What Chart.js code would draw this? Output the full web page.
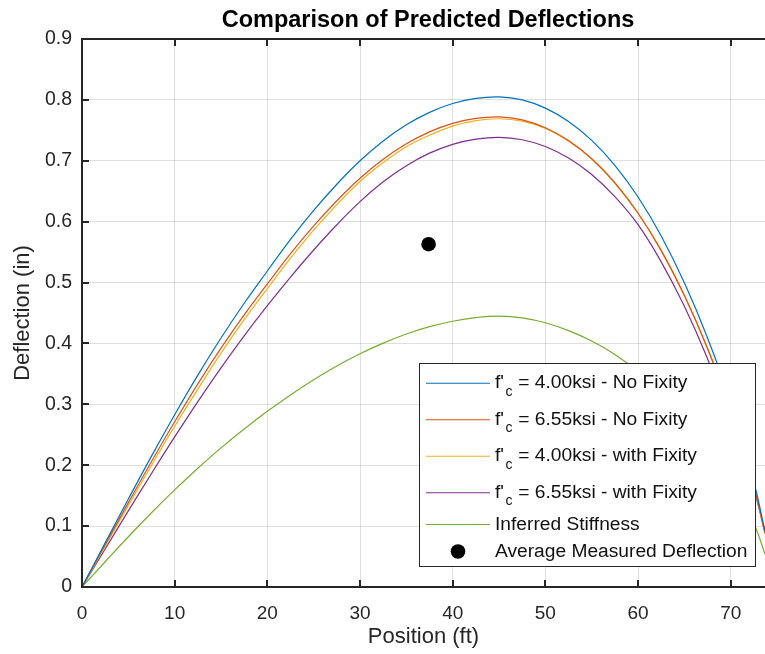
<!DOCTYPE html>
<html>
<head>
<meta charset="utf-8">
<title>Comparison of Predicted Deflections</title>
<script src="https://cdn.jsdelivr.net/npm/chart.js@4.4.1/dist/chart.umd.min.js"></script>
<style>
  html, body { margin: 0; padding: 0; background: #ffffff; }
  #wrap { width: 765px; height: 654px; position: relative; }
</style>
</head>
<body>
<div id="wrap"><canvas id="deflChart" width="765" height="654"></canvas></div>
<script>
// position along the span (ft)
const positions = [0, 2.5, 5, 7.5, 10, 12.5, 15, 17.5, 20, 22.5, 25, 27.5, 30, 32.5, 35, 37.5,
    40, 42.5, 45, 47.5, 50, 52.5, 55, 57.5, 60, 62.5, 65, 67.5, 70, 72.5, 73.7];

// predicted deflections (in)
const noFix400 = [0, 0.0725, 0.1445, 0.215, 0.283, 0.348, 0.409, 0.466, 0.519, 0.571, 0.6185, 0.6615, 0.700, 0.7325, 0.759, 0.7795,
    0.794, 0.8025, 0.805, 0.800, 0.7865, 0.7645, 0.7335, 0.6925, 0.6405, 0.5765, 0.4995, 0.409, 0.303, 0.172, 0.092];
const noFix655 = [0, 0.0695, 0.1386, 0.2062, 0.2714, 0.3337, 0.3922, 0.4469, 0.4977, 0.5476, 0.5931, 0.6344, 0.6713, 0.7025, 0.7279, 0.7475,
    0.7614, 0.7696, 0.7720, 0.7672, 0.7542, 0.7332, 0.7034, 0.6641, 0.6142, 0.5529, 0.4790, 0.3922, 0.2906, 0.1650, 0.0882];
const fix400 = [0, 0.067, 0.134, 0.200, 0.264, 0.325, 0.384, 0.439, 0.490, 0.540, 0.586, 0.628, 0.666, 0.697, 0.723, 0.742,
    0.757, 0.766, 0.769, 0.765, 0.753, 0.732, 0.703, 0.663, 0.613, 0.552, 0.478, 0.391, 0.290, 0.164, 0.088];
const fix655 = [0, 0.0625, 0.125, 0.1865, 0.2465, 0.3045, 0.360, 0.4125, 0.462, 0.509, 0.5535, 0.595, 0.633, 0.6655, 0.692, 0.7125,
    0.727, 0.7355, 0.7385, 0.7345, 0.7235, 0.7045, 0.6775, 0.641, 0.595, 0.534, 0.461, 0.375, 0.275, 0.160, 0.090];
const inferred = [0, 0.0415, 0.0825, 0.122, 0.1595, 0.195, 0.2285, 0.2595, 0.2885, 0.3155, 0.3405, 0.363, 0.383, 0.4005, 0.4155, 0.4275,
    0.4365, 0.4425, 0.445, 0.442, 0.434, 0.421, 0.404, 0.382, 0.354, 0.320, 0.279, 0.230, 0.172, 0.104, 0.054];

// field measurement
const measuredPos = [37.4];
const measuredDefl = [0.563];

const seriesNames = [
    "f'_c = 4.00ksi - No Fixity",
    "f'_c = 6.55ksi - No Fixity",
    "f'_c = 4.00ksi - with Fixity",
    "f'_c = 6.55ksi - with Fixity",
    "Inferred Stiffness",
    "Average Measured Deflection"
];
const seriesColors = ["#0072BD", "#D95319", "#EDB120", "#7E2F8E", "#77AC30", "#000000"];

const xTicks = [0, 10, 20, 30, 40, 50, 60, 70];
const yTicks = [0, 0.1, 0.2, 0.3, 0.4, 0.5, 0.6, 0.7, 0.8, 0.9];

const FONT = "'Liberation Sans', Arial, Helvetica, sans-serif";
const AXIS_INK = "#262626";

function toPoints(xs, ys) {
    return xs.map((x, i) => ({ x: x, y: ys[i] }));
}

const curveData = [noFix400, noFix655, fix400, fix655, inferred];
const datasets = curveData.map((vals, i) => ({
    label: seriesNames[i],
    data: toPoints(positions, vals),
    showLine: true,
    borderColor: seriesColors[i],
    backgroundColor: seriesColors[i],
    borderWidth: 1.2,
    pointRadius: 0,
    tension: 0.4,
    fill: false
}));
datasets.push({
    label: seriesNames[5],
    data: toPoints(measuredPos, measuredDefl),
    showLine: false,
    pointRadius: 7.3,
    pointBackgroundColor: "#000000",
    pointBorderColor: "#000000",
    pointBorderWidth: 0
});

// title, axis box with inward ticks
const framePlugin = {
    id: "frame",
    afterDatasetsDraw(chart) {
        const { ctx, chartArea: a, scales } = chart;
        ctx.save();
        ctx.strokeStyle = AXIS_INK;
        ctx.lineWidth = 2;
        ctx.beginPath();
        ctx.moveTo(a.left, a.top);
        ctx.lineTo(a.right + 2, a.top);
        ctx.moveTo(a.left, a.top - 1);
        ctx.lineTo(a.left, a.bottom + 1);
        ctx.moveTo(a.left - 1, a.bottom);
        ctx.lineTo(a.right + 2, a.bottom);
        xTicks.forEach(v => {
            const px = Math.round(scales.x.getPixelForValue(v));
            ctx.moveTo(px, a.bottom);
            ctx.lineTo(px, a.bottom - 7);
            ctx.moveTo(px, a.top);
            ctx.lineTo(px, a.top + 7);
        });
        yTicks.forEach(v => {
            const py = Math.round(scales.y.getPixelForValue(v));
            ctx.moveTo(a.left, py);
            ctx.lineTo(a.left + 7, py);
        });
        ctx.stroke();

        ctx.fillStyle = "#000000";
        ctx.font = "bold 23.5px " + FONT;
        ctx.textAlign = "center";
        ctx.textBaseline = "alphabetic";
        ctx.fillText("Comparison of Predicted Deflections", 428, 27);
        ctx.restore();
    }
};

// draws "f'_c" style labels with a lowered subscript
function drawLabel(ctx, text, x, baseline) {
    const parts = text.split("_");
    ctx.font = "19.2px " + FONT;
    ctx.fillText(parts[0], x, baseline);
    if (parts.length === 1) return;
    let cx = x + ctx.measureText(parts[0]).width + 1.5;
    ctx.font = "14px " + FONT;
    const sub = parts[1].charAt(0);
    ctx.fillText(sub, cx, baseline + 7.5);
    cx += ctx.measureText(sub).width + 0.5;
    ctx.font = "19.2px " + FONT;
    ctx.fillText(parts[1].slice(1), cx, baseline);
}

const legendPlugin = {
    id: "boxLegend",
    afterDraw(chart) {
        const ctx = chart.ctx;
        const box = { left: 419.5, top: 363.5, width: 336, height: 203 };
        ctx.save();
        ctx.fillStyle = "#ffffff";
        ctx.fillRect(box.left, box.top, box.width, box.height);
        ctx.strokeStyle = AXIS_INK;
        ctx.lineWidth = 1;
        ctx.strokeRect(box.left, box.top, box.width, box.height);

        let y = 365;
        seriesNames.forEach((name, i) => {
            const h = name.includes("_") ? 36.5 : 27;
            const mid = y + h / 2;
            if (i < 5) {
                ctx.strokeStyle = seriesColors[i];
                ctx.lineWidth = 1.2;
                ctx.beginPath();
                ctx.moveTo(426, mid);
                ctx.lineTo(490, mid);
                ctx.stroke();
            } else {
                ctx.fillStyle = seriesColors[i];
                ctx.beginPath();
                ctx.arc(458, mid, 7.3, 0, Math.PI * 2);
                ctx.fill();
            }
            ctx.fillStyle = "#111111";
            ctx.textAlign = "left";
            ctx.textBaseline = "alphabetic";
            drawLabel(ctx, name, 495, mid + 5);
            y += h;
        });
        ctx.restore();
    }
};

new Chart(document.getElementById("deflChart").getContext("2d"), {
    type: "scatter",
    data: { datasets: datasets },
    options: {
        responsive: false,
        animation: false,
        devicePixelRatio: 1,
        layout: { autoPadding: false, padding: { top: 39, right: 0, bottom: 0, left: 0 } },
        plugins: {
            legend: { display: false },
            title: { display: false },
            tooltip: { enabled: false }
        },
        scales: {
            x: {
                type: "linear",
                min: 0,
                max: 73.7,
                afterFit: s => { s.height = 67; s.paddingLeft = 0; s.paddingRight = 0; },
                afterBuildTicks: s => { s.ticks = xTicks.map(v => ({ value: v })); },
                grid: { color: "rgba(38,38,38,0.15)", lineWidth: 1, drawTicks: false },
                border: { display: false },
                ticks: {
                    padding: 15,
                    color: AXIS_INK,
                    font: { family: FONT, size: 19 },
                    maxRotation: 0,
                    callback: v => String(v)
                },
                title: {
                    display: true,
                    text: "Position (ft)",
                    color: AXIS_INK,
                    font: { family: FONT, size: 22 },
                    padding: { top: 0, bottom: 4 }
                }
            },
            y: {
                type: "linear",
                min: 0,
                max: 0.9,
                afterFit: s => { s.width = 82; s.paddingTop = 0; s.paddingBottom = 0; },
                afterBuildTicks: s => { s.ticks = yTicks.map(v => ({ value: v })); },
                grid: { color: "rgba(38,38,38,0.15)", lineWidth: 1, drawTicks: false },
                border: { display: false },
                ticks: {
                    padding: 10,
                    color: AXIS_INK,
                    font: { family: FONT, size: 19.5 },
                    callback: v => String(v)
                },
                title: {
                    display: true,
                    text: "Deflection (in)",
                    color: AXIS_INK,
                    font: { family: FONT, size: 22 },
                    padding: { top: 10, bottom: 0 }
                }
            }
        }
    },
    plugins: [framePlugin, legendPlugin]
});
</script>
</body>
</html>
